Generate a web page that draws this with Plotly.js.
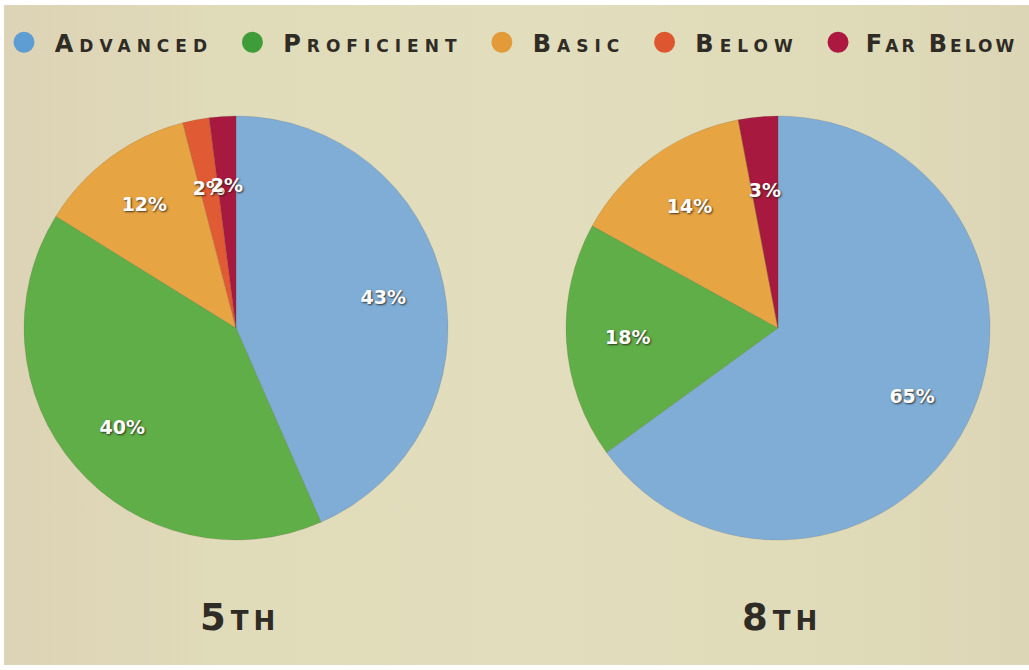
<!DOCTYPE html>
<html>
<head>
<meta charset="utf-8">
<script src="https://cdn.plot.ly/plotly-3.0.1.min.js"></script>
<style>
  html, body { margin: 0; padding: 0; background: #ffffff; width: 1029px; height: 670px; overflow: hidden; }
  #chart { position: absolute; left: 4px; top: 5px; width: 1080px; height: 660px;
    background: linear-gradient(90deg, #ddd3b6 0%, #e0dbb9 20%, #e2ddbc 50%, #dfdab8 78%, #dcd6b6 95%); }
  .legendtext { letter-spacing: 6px; }
  #chart .legend .traces:last-of-type .legendtext { letter-spacing: 3px; }
  .annotation-text { letter-spacing: 5px; }
</style>
</head>
<body>
<div id="chart"></div>
<script>
const categories = ['Advanced', 'Proficient', 'Basic', 'Below', 'Far Below'];
const grade5Values = [43, 40, 12, 2, 2];
const grade8Values = [65, 18, 14, 0, 3];
const gradeLabels = ['5th', '8th'];
const sliceColors = ['#7fadd6', '#5fae48', '#e6a443', '#e05a33', '#a8193f'];
const legendColors = ['#5d9dd3', '#3f9d39', '#e39a38', '#de5630', '#ad1840'];

const W = 1080, H = 660;
const labelFont = { family: 'DejaVu Sans', size: 19, color: '#ffffff', weight: 'bold',
  shadow: '1px 1px 2px rgba(40,30,20,0.85)' };
const SMALL = 5; // slices below this share get their label on an inner ring

// pie placement (pixels inside the plot div)
const centersX = [232, 774], centerY = 323, R = 212, Rin = 152;
const xd = (cx, r) => [(cx - r) / W, (cx + r) / W];
const yd = (r) => [(H - centerY - r) / H, (H - centerY + r) / H];

function baseTrace(values, cx) {
  return {
    type: 'pie', labels: categories, values: values,
    textinfo: 'none', sort: false, direction: 'clockwise', rotation: 0,
    marker: { colors: sliceColors, line: { color: 'rgba(90,70,50,0.25)', width: 0.6 } },
    domain: { x: xd(cx, R), y: yd(R) }, showlegend: false, hoverinfo: 'skip'
  };
}
function labelTrace(values, cx, r, hole, pick) {
  return {
    type: 'pie', labels: categories, values: values, hole: hole,
    text: values.map(v => (v > 0 && pick(v)) ? v + '%' : ''),
    texttemplate: '%{text}', textinfo: 'text',
    textposition: 'inside', insidetextorientation: 'horizontal',
    insidetextfont: labelFont,
    sort: false, direction: 'clockwise', rotation: 0,
    marker: { colors: categories.map(() => 'rgba(0,0,0,0)'), line: { width: 0 } },
    domain: { x: xd(cx, r), y: yd(r) }, showlegend: false, hoverinfo: 'skip'
  };
}

const traces = [];
[grade5Values, grade8Values].forEach((vals, k) => {
  traces.push(baseTrace(vals, centersX[k]));
  traces.push(labelTrace(vals, centersX[k], R, 0.42, v => v >= SMALL));
  traces.push(labelTrace(vals, centersX[k], Rin, 0, v => v < SMALL));
});

categories.forEach((c, i) => {
  traces.push({
    type: 'scatter', mode: 'markers', x: [null], y: [null],
    name: '\u2009' + c + (i < categories.length - 1 ? '\u00a0' : ''),
    marker: { symbol: 'circle', size: 16, color: legendColors[i], line: { color: legendColors[i], width: 5 } },
    showlegend: true, hoverinfo: 'skip'
  });
});

const layout = {
  width: W, height: H,
  margin: { l: 0, r: 0, t: 0, b: 0 },
  paper_bgcolor: 'rgba(0,0,0,0)',
  plot_bgcolor: 'rgba(0,0,0,0)',
  xaxis: { visible: false }, yaxis: { visible: false },
  uniformtext: { mode: 'show', minsize: 19 },
  legend: {
    orientation: 'h', x: 0, xanchor: 'left', y: 0.977, yanchor: 'top',
    bgcolor: 'rgba(0,0,0,0)', itemsizing: 'trace',
    font: { family: 'DejaVu Sans', size: 24, color: '#2f2b25', weight: 'bold', variant: 'small-caps' }
  },
  annotations: gradeLabels.map((g, i) => ({
    text: g, xref: 'paper', yref: 'paper', x: (centersX[i] + 4) / W, y: 0.072,
    xanchor: 'center', yanchor: 'middle', showarrow: false,
    font: { family: 'DejaVu Sans', size: 37, color: '#2f2b25', weight: 'bold', variant: 'small-caps' }
  }))
};

Plotly.newPlot('chart', traces, layout, { displayModeBar: false, staticPlot: true });
</script>
</body>
</html>
